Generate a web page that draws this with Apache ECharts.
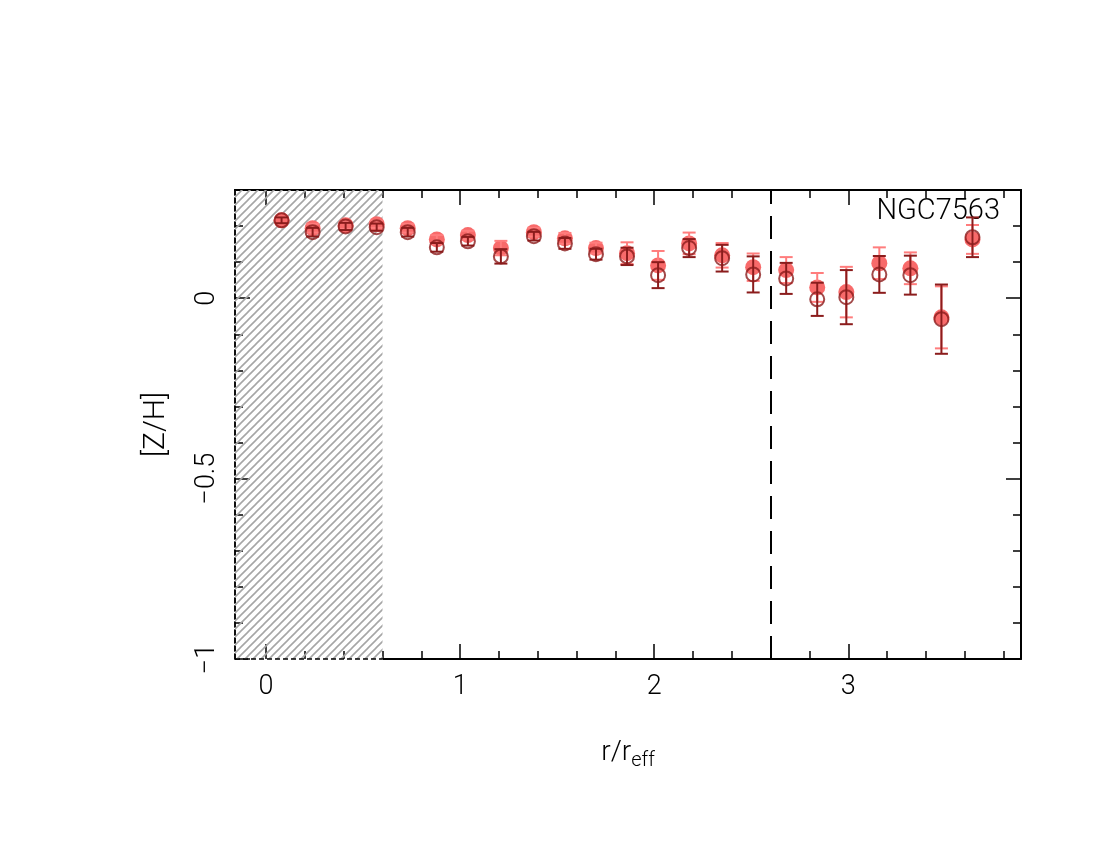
<!DOCTYPE html>
<html>
<head>
<meta charset="utf-8">
<script src="https://cdn.jsdelivr.net/npm/echarts@6/dist/echarts.min.js"></script>
<style>
  html, body { margin: 0; padding: 0; background: #fff; }
  #chart { width: 1100px; height: 850px; }
</style>
</head>
<body>
<div id="chart"></div>
<script>
// radius in units of r_eff
const radius = [0.08, 0.24, 0.41, 0.57, 0.73, 0.88, 1.04, 1.21, 1.38, 1.54, 1.70, 1.86,
                2.02, 2.18, 2.35, 2.51, 2.68, 2.84, 2.99, 3.16, 3.32, 3.48, 3.64];
// filled (light red) points and their errors
const zhFilled = [0.216, 0.194, 0.202, 0.205, 0.194, 0.163, 0.175, 0.139, 0.183, 0.166, 0.139, 0.125,
                  0.091, 0.152, 0.119, 0.086, 0.078, 0.030, 0.017, 0.097, 0.083, -0.053, 0.163];
const errFilled = [0.008, 0.012, 0.010, 0.010, 0.012, 0.012, 0.012, 0.020, 0.012, 0.015, 0.015, 0.030,
                   0.040, 0.030, 0.034, 0.038, 0.036, 0.040, 0.070, 0.044, 0.044, 0.086, 0.040];
// open (dark red) points and their errors
const zhOpen = [0.216, 0.183, 0.199, 0.197, 0.183, 0.141, 0.158, 0.116, 0.172, 0.152, 0.122, 0.116,
                0.064, 0.139, 0.111, 0.066, 0.055, -0.003, 0.003, 0.066, 0.064, -0.058, 0.169];
const errOpen = [0.008, 0.012, 0.010, 0.010, 0.012, 0.012, 0.012, 0.020, 0.012, 0.015, 0.015, 0.024,
                 0.036, 0.025, 0.037, 0.050, 0.043, 0.046, 0.075, 0.051, 0.054, 0.096, 0.055];

const xRange = [-0.16, 3.89];
const yRange = [-1, 0.3];
const xMajor = [0, 1, 2, 3];
const xMinor = [0.2, 0.4, 0.6, 0.8, 1.2, 1.4, 1.6, 1.8, 2.2, 2.4, 2.6, 2.8, 3.2, 3.4, 3.6, 3.8];
const yMajor = [-1, -0.5, 0];
const yMinor = [-0.9, -0.8, -0.7, -0.6, -0.4, -0.3, -0.2, -0.1, 0.1, 0.2];
const hatchEnd = 0.6;
const rLimit = 2.6;
const galaxy = 'NGC7563';

const lightRed = '#f86a6a';
const lightErr = '#ff7d7d';
const darkRed = '#8b1c1c';
const font = 'Roboto';

// hatch pattern
const pat = document.createElement('canvas');
pat.width = 8; pat.height = 8;
const ctx = pat.getContext('2d');
ctx.strokeStyle = '#a6a6a6';
ctx.lineWidth = 1.6;
ctx.beginPath();
ctx.moveTo(-1, 9); ctx.lineTo(9, -1);
ctx.moveTo(-1, 1); ctx.lineTo(1, -1);
ctx.moveTo(7, 9); ctx.lineTo(9, 7);
ctx.stroke();

function withErr(vals, errs) {
  return radius.map((r, i) => [r, vals[i], errs[i]]);
}

function errBar(color) {
  return function (params, api) {
    const x = api.value(0), y = api.value(1), e = api.value(2);
    const top = api.coord([x, y + e]);
    const bot = api.coord([x, y - e]);
    const hw = 6.5;
    const style = { stroke: color, lineWidth: 2 };
    return {
      type: 'group',
      children: [
        { type: 'line', shape: { x1: top[0], y1: top[1], x2: bot[0], y2: bot[1] }, style },
        { type: 'line', shape: { x1: top[0] - hw, y1: top[1], x2: top[0] + hw, y2: top[1] }, style },
        { type: 'line', shape: { x1: bot[0] - hw, y1: bot[1], x2: bot[0] + hw, y2: bot[1] }, style }
      ]
    };
  };
}

function xAx(pos, ticks, len, labels) {
  return {
    type: 'value', position: pos, min: xRange[0], max: xRange[1],
    axisLine: { show: pos === 'top', onZero: false, lineStyle: { color: '#000', width: 2 } },
    axisTick: { show: true, inside: true, length: len, customValues: ticks,
                lineStyle: { color: '#000', width: 1.5 } },
    axisLabel: labels ? { show: true, customValues: ticks, margin: 15, color: '#000',
                          fontSize: 27, fontFamily: font, fontWeight: 300 } : { show: false },
    splitLine: { show: false }
  };
}

function yAx(pos, ticks, len, labels) {
  return {
    type: 'value', position: pos, min: yRange[0], max: yRange[1],
    axisLine: { show: true, onZero: false, lineStyle: { color: '#000', width: pos === 'left' ? 1.5 : 2,
                type: pos === 'left' ? [5, 3] : 'solid' } },
    axisTick: { show: true, inside: true, length: len, customValues: ticks,
                lineStyle: { color: '#000', width: 1.5 } },
    axisLabel: labels ? { show: true, customValues: ticks, rotate: 90, margin: 14, color: '#000',
                          fontSize: 27, fontFamily: font, fontWeight: 300,
                          formatter: v => (v < 0 ? '\u2212' + Math.abs(v) : String(v)) } : { show: false },
    splitLine: { show: false }
  };
}

const chart = echarts.init(document.getElementById('chart'), null, { renderer: 'canvas' });

const xAxes = [xAx('bottom', xMajor, 15, true), xAx('bottom', xMinor, 8, false),
               xAx('top', xMajor, 15, false), xAx('top', xMinor, 8, false)];
Object.assign(xAxes[0], {
  name: 'r/r{sub|eff}', nameLocation: 'middle', nameGap: 76,
  nameTextStyle: { color: '#000', fontSize: 28, fontFamily: font, fontWeight: 300,
                   rich: { sub: { fontSize: 20, fontFamily: font, fontWeight: 300,
                                  verticalAlign: 'bottom', padding: [16, 0, 0, 0] } } }
});
const yAxes = [yAx('left', yMajor, 15, true), yAx('left', yMinor, 8, false),
               yAx('right', yMajor, 15, false), yAx('right', yMinor, 8, false)];
Object.assign(yAxes[0], {
  name: '[Z/H]', nameLocation: 'middle', nameGap: 64, nameRotate: 90,
  nameTextStyle: { color: '#000', fontSize: 30, fontFamily: font, fontWeight: 300 }
});

chart.setOption({
  animation: false,
  backgroundColor: '#fff',
  grid: { left: 235, right: 79, top: 190, bottom: 191, containLabel: false },
  xAxis: xAxes,
  yAxis: yAxes,
  graphic: [{
    type: 'text', right: 100, top: 197,
    style: { text: galaxy, fontSize: 29, fontFamily: font, fontWeight: 300, fill: '#000' }
  }],
  series: [
    {
      type: 'scatter', data: [], z: 1, silent: true,
      markArea: {
        silent: true,
        itemStyle: { color: { image: pat, repeat: 'repeat' } },
        data: [[{ coord: [xRange[0], yRange[0]] }, { coord: [hatchEnd, yRange[1]] }]]
      },
      markLine: {
        silent: true, symbol: 'none', label: { show: false },
        data: [
          [{ coord: [xRange[0], yRange[0]], lineStyle: { type: [5, 3], width: 1.5, color: '#000' } },
           { coord: [hatchEnd, yRange[0]] }],
          [{ coord: [hatchEnd, yRange[0]], lineStyle: { type: 'solid', width: 2, color: '#000' } },
           { coord: [xRange[1], yRange[0]] }],
          { xAxis: rLimit, lineStyle: { type: [23, 12], width: 2, color: '#000' } }
        ]
      }
    },
    {
      type: 'scatter', z: 3, symbol: 'circle', symbolSize: 16,
      data: withErr(zhFilled, errFilled),
      itemStyle: { color: lightRed, opacity: 1 }
    },
    {
      type: 'custom', z: 4, renderItem: errBar(lightErr),
      data: withErr(zhFilled, errFilled)
    },
    {
      type: 'custom', z: 5, renderItem: errBar(darkRed),
      data: withErr(zhOpen, errOpen)
    },
    {
      type: 'scatter', z: 6, symbol: 'circle', symbolSize: 14,
      data: withErr(zhOpen, errOpen),
      itemStyle: { color: 'rgba(0,0,0,0)', borderColor: darkRed, borderWidth: 2 }
    }
  ]
});
</script>
</body>
</html>
